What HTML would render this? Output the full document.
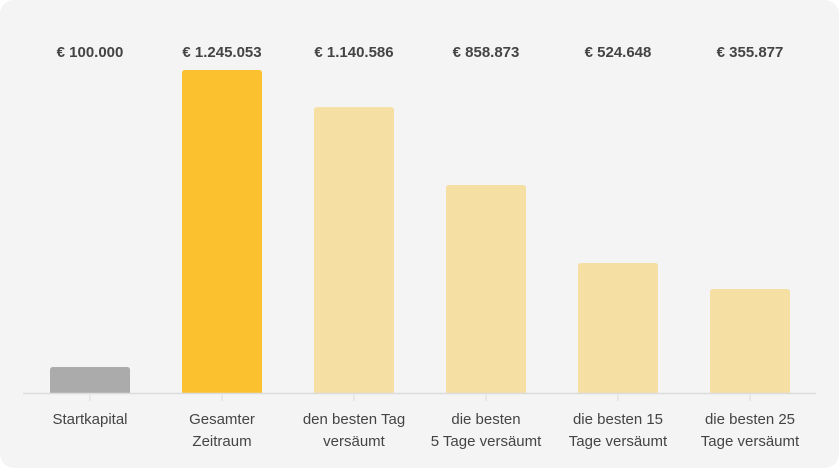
<!DOCTYPE html>
<html><head><meta charset="utf-8"><style>
html,body{margin:0;padding:0;background:#fff;}
#card{position:absolute;left:0;top:0;width:839px;height:468px;background:#f4f4f4;border-radius:14px;overflow:hidden;}
svg text{font-family:"Liberation Sans",sans-serif;}
</style></head><body>
<div id="card">
<svg id="chart" width="839" height="468"></svg>
</div>
<script>
const categories = [["Startkapital"],["Gesamter","Zeitraum"],["den besten Tag","versäumt"],["die besten","5 Tage versäumt"],["die besten 15","Tage versäumt"],["die besten 25","Tage versäumt"]];
const values = [100000, 1245053, 1102000, 802000, 501000, 401000];
const valueLabels = ["€ 100.000","€ 1.245.053","€ 1.140.586","€ 858.873","€ 524.648","€ 355.877"];
const colors = ["#ababab","#fbc12f","#f5dfa3","#f5dfa3","#f5dfa3","#f5dfa3"];

const NS="http://www.w3.org/2000/svg";
const svg=document.getElementById('chart');
const baseY=393, plotH=323, maxV=1245053;
const x0=24, step=132, barW=80;
function xCenter(i){return x0+step*i+66;}
function yScale(v){return baseY-v/maxV*plotH;}
function mk(tag,attrs){const e=document.createElementNS(NS,tag);for(const k in attrs)e.setAttribute(k,attrs[k]);svg.appendChild(e);return e;}

values.forEach((v,i)=>{
  const cx=xCenter(i), y=yScale(v);
  const r=mk('path',{d:`M${cx-barW/2},${baseY} V${y+3} Q${cx-barW/2},${y} ${cx-barW/2+3},${y} H${cx+barW/2-3} Q${cx+barW/2},${y} ${cx+barW/2},${y+3} V${baseY} Z`,fill:colors[i]});
  
  
  const t=mk('text',{x:cx,y:57,'text-anchor':'middle','font-size':'15','font-weight':'bold',fill:'#444'});
  t.textContent=valueLabels[i];
  
  
  const tk=mk('line',{x1:cx,x2:cx,y1:baseY,y2:baseY+8,stroke:'#ddd','stroke-width':'1'});
  
  
  categories[i].forEach((line,j)=>{
    const c=mk('text',{x:cx,y:424+j*22,'text-anchor':'middle','font-size':'15',fill:'#444'});
    c.textContent=line;
    
    
  });
});
const ax=mk('line',{x1:23,x2:816,y1:baseY+0.5,y2:baseY+0.5,stroke:'#dcdcdc','stroke-width':'1.5'});


</script>
</body></html>
